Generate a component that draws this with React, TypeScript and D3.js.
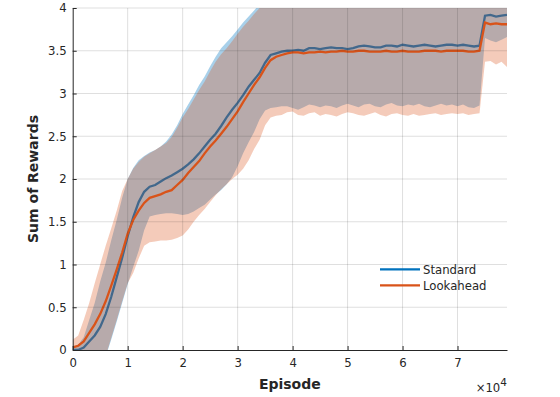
import React, { useEffect, useRef } from 'react';
import * as d3 from 'd3';

// episodes, one sample every 1000
const episodes: number[] = d3.range(0, 80000, 1000);

const standardMean = [
  0.0, 0.0, 0.03, 0.1, 0.17, 0.27, 0.42, 0.62, 0.85, 1.08,
  1.33, 1.55, 1.73, 1.85, 1.91, 1.93, 1.97, 2.01, 2.04, 2.08,
  2.12, 2.17, 2.23, 2.3, 2.38, 2.46, 2.53, 2.62, 2.72, 2.81,
  2.89, 2.98, 3.08, 3.16, 3.24, 3.36, 3.45, 3.47, 3.49, 3.5,
  3.5, 3.51, 3.5, 3.53, 3.53, 3.52, 3.53, 3.54, 3.53, 3.53,
  3.52, 3.53, 3.55, 3.56, 3.55, 3.54, 3.54, 3.56, 3.56, 3.55,
  3.57, 3.56, 3.55, 3.56, 3.57, 3.56, 3.55, 3.56, 3.57, 3.57,
  3.56, 3.57, 3.56, 3.55, 3.56, 3.91, 3.92, 3.9, 3.91, 3.92
];
const standardUpper = [
  0.03, 0.06, 0.15, 0.35, 0.55, 0.8, 1.02, 1.28, 1.52, 1.78,
  2.0, 2.13, 2.22, 2.27, 2.31, 2.34, 2.38, 2.44, 2.52, 2.63,
  2.76, 2.87, 2.98, 3.1, 3.2, 3.32, 3.43, 3.53, 3.6, 3.67,
  3.75, 3.83, 3.9, 3.97, 4.05, 4.12, 4.2, 4.22, 4.23, 4.24,
  4.25, 4.25, 4.25, 4.25, 4.25, 4.25, 4.25, 4.25, 4.25, 4.25,
  4.25, 4.25, 4.25, 4.25, 4.25, 4.25, 4.25, 4.25, 4.25, 4.25,
  4.25, 4.25, 4.25, 4.25, 4.25, 4.25, 4.25, 4.25, 4.25, 4.25,
  4.25, 4.25, 4.25, 4.25, 4.25, 4.3, 4.3, 4.3, 4.3, 4.3
];
const standardLower = [
  -0.03, -0.1, -0.25, -0.4, -0.42, -0.3, -0.08, 0.12, 0.33, 0.55,
  0.77, 0.97, 1.16, 1.4, 1.56, 1.58, 1.59, 1.6, 1.6, 1.59,
  1.58, 1.59, 1.62, 1.66, 1.7, 1.76, 1.82, 1.87, 1.94, 2.02,
  2.15, 2.3, 2.43, 2.55, 2.7, 2.8, 2.83, 2.84, 2.85, 2.85,
  2.83, 2.81, 2.84, 2.87, 2.86, 2.84, 2.86, 2.85, 2.83, 2.86,
  2.88, 2.86, 2.84, 2.87, 2.88, 2.85, 2.84, 2.87, 2.89, 2.86,
  2.85, 2.87, 2.86, 2.88, 2.85, 2.84, 2.86, 2.88, 2.86, 2.87,
  2.85, 2.87, 2.84, 2.83, 2.86, 3.65, 3.62, 3.6, 3.63, 3.66
];

const lookaheadMean = [
  0.03, 0.05, 0.1, 0.2, 0.3, 0.42, 0.57, 0.75, 0.94, 1.14,
  1.36, 1.52, 1.63, 1.72, 1.78, 1.8, 1.82, 1.85, 1.87, 1.93,
  1.99, 2.07, 2.14, 2.21, 2.3, 2.38, 2.45, 2.53, 2.61, 2.7,
  2.79, 2.9, 3.0, 3.1, 3.19, 3.3, 3.39, 3.43, 3.45, 3.47,
  3.48, 3.48, 3.47, 3.48, 3.48, 3.49, 3.48, 3.49, 3.49, 3.5,
  3.49, 3.49, 3.5, 3.5, 3.49, 3.49, 3.49, 3.5, 3.49, 3.49,
  3.5, 3.49, 3.49, 3.49, 3.5, 3.5, 3.5, 3.49, 3.5, 3.5,
  3.5, 3.5, 3.49, 3.49, 3.5, 3.83, 3.81, 3.82, 3.81, 3.81
];
const lookaheadUpper = [
  0.12, 0.17, 0.35, 0.55, 0.78, 1.0, 1.22, 1.42, 1.63, 1.86,
  2.0, 2.12, 2.2, 2.26, 2.3, 2.34, 2.38, 2.42, 2.49, 2.6,
  2.72, 2.82, 2.93, 3.04, 3.14, 3.26, 3.37, 3.46, 3.53, 3.61,
  3.7, 3.78, 3.85, 3.93, 4.0, 4.07, 4.15, 4.15, 4.15, 4.15,
  4.15, 4.15, 4.15, 4.15, 4.15, 4.15, 4.15, 4.15, 4.15, 4.15,
  4.15, 4.15, 4.15, 4.15, 4.15, 4.15, 4.15, 4.15, 4.15, 4.15,
  4.15, 4.15, 4.15, 4.15, 4.15, 4.15, 4.15, 4.15, 4.15, 4.15,
  4.15, 4.15, 4.15, 4.15, 4.15, 4.25, 4.25, 4.25, 4.25, 4.25
];
const lookaheadLower = [
  -0.02, -0.02, -0.08, -0.2, -0.3, -0.25, -0.07, 0.14, 0.35, 0.57,
  0.78, 0.9, 1.07, 1.22, 1.26, 1.27, 1.28, 1.28, 1.29, 1.31,
  1.34, 1.41, 1.5, 1.58, 1.65, 1.73, 1.81, 1.88, 1.94, 2.0,
  2.05, 2.12, 2.22, 2.35, 2.46, 2.63, 2.72, 2.74, 2.75, 2.78,
  2.79, 2.75, 2.74, 2.77, 2.78, 2.74, 2.76, 2.75, 2.73, 2.76,
  2.78, 2.77, 2.75, 2.74, 2.76, 2.78, 2.75, 2.73, 2.76, 2.77,
  2.75, 2.74, 2.76, 2.74, 2.75, 2.76, 2.77, 2.75, 2.76, 2.77,
  2.76, 2.77, 2.75, 2.76, 2.77, 3.37, 3.38, 3.34, 3.37, 3.31
];

const xTicks = [0, 10000, 20000, 30000, 40000, 50000, 60000, 70000];
const yTicks = [0, 0.5, 1, 1.5, 2, 2.5, 3, 3.5, 4];
const legendNames = ['Standard', 'Lookahead'];

const W = 560;
const H = 397;
const FONT = 'DejaVu Sans, sans-serif';
const INK = '#262626';

const App = () => {
  const svgRef = useRef<SVGSVGElement>(null);

  useEffect(() => {
    const svg = d3.select(svgRef.current);
    svg.selectAll('*').remove();

    const x = d3.scaleLinear().domain([0, 79000]).range([72.7, 507]);
    const y = d3.scaleLinear().domain([0, 4]).range([350, 8]);

    svg.append('defs').append('clipPath').attr('id', 'plotclip')
      .append('rect')
      .attr('x', x(0)).attr('y', y(4))
      .attr('width', x(79000) - x(0)).attr('height', y(0) - y(4));

    const band = (lo: number[], hi: number[]) =>
      d3.area<number>()
        .x(d => x(d))
        .y0((d, i) => y(lo[i]))
        .y1((d, i) => y(hi[i]))(episodes);

    const mean = (vals: number[]) =>
      d3.line<number>()
        .x(d => x(d))
        .y((d, i) => y(vals[i]))(episodes);

    const plot = svg.append('g').attr('clip-path', 'url(#plotclip)');

    plot.append('path')
      .attr('d', band(standardLower, standardUpper))
      .attr('fill', '#a8d0ea');

    // grid
    const grid = svg.append('g').attr('stroke', INK).attr('stroke-opacity', 0.15);
    xTicks.filter(t => t > 0).forEach(t => {
      grid.append('line')
        .attr('x1', x(t)).attr('x2', x(t))
        .attr('y1', y(0)).attr('y2', y(4));
    });
    yTicks.filter(t => t > 0).forEach(t => {
      grid.append('line')
        .attr('x1', x(0)).attr('x2', x(79000))
        .attr('y1', y(t)).attr('y2', y(t));
    });

    plot.append('path')
      .attr('d', mean(standardMean))
      .attr('fill', 'none')
      .attr('stroke', '#0072BD')
      .attr('stroke-width', 2.3);

    plot.append('path')
      .attr('d', band(lookaheadLower, lookaheadUpper))
      .attr('fill', '#D95319')
      .attr('fill-opacity', 0.3);

    plot.append('path')
      .attr('d', mean(lookaheadMean))
      .attr('fill', 'none')
      .attr('stroke', '#D95319')
      .attr('stroke-width', 2.3);

    // axes (ticks inside, MATLAB style)
    const xAxis = svg.append('g').attr('transform', `translate(0,${y(0)})`)
      .call(d3.axisBottom(x).tickValues(xTicks).tickSizeInner(-4).tickSizeOuter(0)
        .tickFormat(d => String(+d / 10000)));
    const yAxis = svg.append('g').attr('transform', `translate(${x(0)},0)`)
      .call(d3.axisLeft(y).tickValues(yTicks).tickSizeInner(-4).tickSizeOuter(0)
        .tickFormat(d => String(d)));

    [xAxis, yAxis].forEach(ax => {
      ax.select('.domain').attr('stroke', INK).attr('stroke-width', 1);
      ax.selectAll('.tick line').attr('stroke', INK);
      ax.selectAll('.tick text')
        .attr('fill', INK)
        .attr('font-family', FONT)
        .attr('font-size', 11.7);
    });
    xAxis.selectAll('.tick text').attr('dy', '0.71em').attr('y', 9);
    yAxis.selectAll('.tick text').attr('x', -6);

    // axis labels
    svg.append('text')
      .attr('x', x(39500)).attr('y', 388.5)
      .attr('text-anchor', 'middle')
      .attr('font-family', FONT).attr('font-weight', 'bold').attr('font-size', 14)
      .attr('fill', INK)
      .text('Episode');

    svg.append('text')
      .attr('transform', `translate(38,${y(2)}) rotate(-90)`)
      .attr('text-anchor', 'middle')
      .attr('font-family', FONT).attr('font-weight', 'bold').attr('font-size', 14)
      .attr('fill', INK)
      .text('Sum of Rewards');

    const mult = svg.append('text')
      .attr('x', 507).attr('y', 391.5)
      .attr('text-anchor', 'end')
      .attr('font-family', FONT).attr('font-size', 11.7)
      .attr('fill', INK);
    mult.append('tspan').text('×10');
    mult.append('tspan').attr('dy', -6).attr('font-size', 10.5).text('4');

    // legend
    const legendColors = ['#0072BD', '#D95319'];
    const legend = svg.append('g');
    legendNames.forEach((name, i) => {
      const ly = 269.3 + i * 16;
      legend.append('line')
        .attr('x1', 380).attr('x2', 420)
        .attr('y1', ly).attr('y2', ly)
        .attr('stroke', legendColors[i]).attr('stroke-width', 2.3);
      legend.append('text')
        .attr('x', 423).attr('y', ly + 4.5)
        .attr('font-family', FONT).attr('font-size', 11.7)
        .attr('fill', INK)
        .text(name);
    });
  }, []);

  return (
    <svg ref={svgRef} width={W} height={H}
      style={{ position: 'absolute', left: 0, top: 0, background: '#fff' }} />
  );
};

export default App;
